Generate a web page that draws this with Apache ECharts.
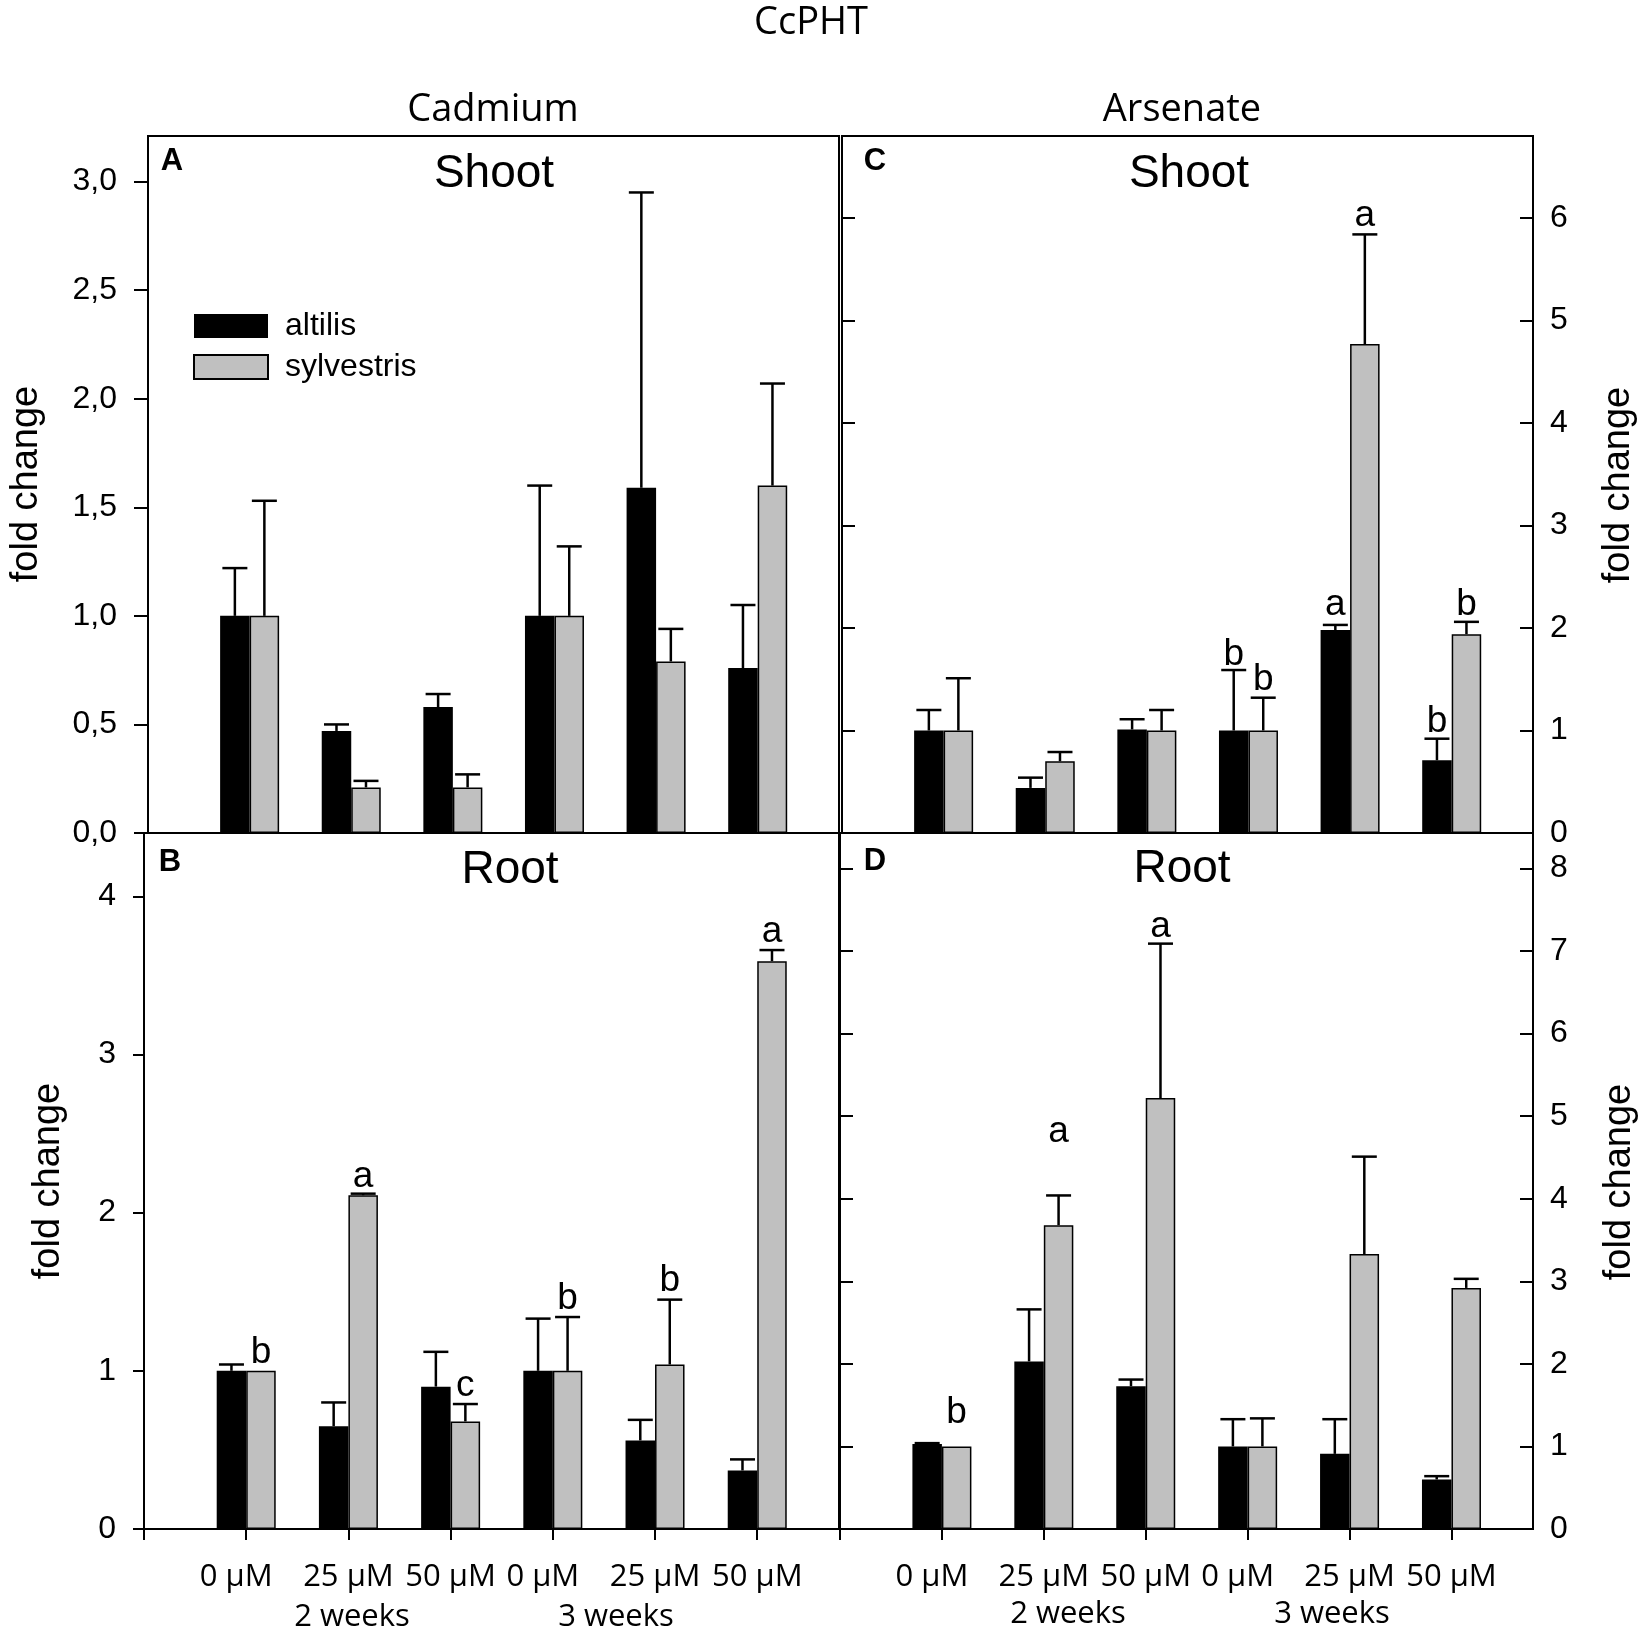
<!DOCTYPE html>
<html lang="en">
<head>
<meta charset="utf-8">
<style>
  html, body { margin: 0; padding: 0; background: #fff; }
  #main { width: 1650px; height: 1638px; }
</style>
</head>
<body>
<div id="main"></div>
<script src="https://cdn.jsdelivr.net/npm/echarts@6/dist/echarts.min.js"></script>
<script>
// categories along the x axis (groups 1..6)
var categories = ['0 µM', '25 µM', '50 µM', '0 µM', '25 µM', '50 µM'];

// A: Cadmium, shoot
var cdShootAlt   = [1.00, 0.47, 0.58, 1.00, 1.59, 0.76];
var cdShootAltSE = [0.22, 0.03, 0.06, 0.60, 1.36, 0.29];
var cdShootSyl   = [1.00, 0.21, 0.21, 1.00, 0.79, 1.60];
var cdShootSylSE = [0.53, 0.03, 0.06, 0.32, 0.15, 0.47];

// B: Cadmium, root
var cdRootAlt   = [1.00, 0.65, 0.90, 1.00, 0.56, 0.37];
var cdRootAltSE = [0.04, 0.15, 0.22, 0.33, 0.13, 0.07];
var cdRootSyl   = [1.00, 2.11, 0.68, 1.00, 1.04, 3.59];
var cdRootSylSE = [0.00, 0.01, 0.11, 0.34, 0.41, 0.07];
var cdRootSylLetters = ['b', 'a', 'c', 'b', 'b', 'a'];
var cdRootSylLetterY = [1.05, 2.16, 0.84, 1.39, 1.50, 3.71];

// C: Arsenate, shoot
var asShootAlt   = [1.00, 0.44, 1.01, 1.00, 1.98, 0.71];
var asShootAltSE = [0.20, 0.10, 0.10, 0.59, 0.05, 0.21];
var asShootSyl   = [1.00, 0.70, 1.00, 1.00, 4.77, 1.94];
var asShootSylSE = [0.51, 0.09, 0.20, 0.32, 1.07, 0.12];
var asShootAltLetters = ['', '', '', 'b', 'a', 'b'];
var asShootAltLetterY = [0, 0, 0, 1.64, 2.12, 0.98];
var asShootSylLetters = ['', '', '', 'b', 'a', 'b'];
var asShootSylLetterY = [0, 0, 0, 1.39, 5.92, 2.12];

// D: Arsenate, root
var asRootAlt   = [1.03, 2.03, 1.73, 1.00, 0.91, 0.60];
var asRootAltSE = [0.01, 0.63, 0.08, 0.33, 0.42, 0.04];
var asRootSyl   = [1.00, 3.68, 5.22, 1.00, 3.33, 2.92];
var asRootSylSE = [0.00, 0.36, 1.87, 0.34, 1.18, 0.11];
var asRootSylLetters = ['b', 'a', 'a', '', '', ''];
var asRootSylLetterY = [1.28, 4.68, 7.17, 0, 0, 0];

// y tick values
var ticksA = [0, 0.5, 1, 1.5, 2, 2.5, 3];
var ticksB = [0, 1, 2, 3, 4];
var ticksC = [0, 1, 2, 3, 4, 5, 6];
var ticksD = [0, 1, 2, 3, 4, 5, 6, 7, 8];
var xTicks = [0, 1, 2, 3, 4, 5, 6];
var xLabelPos = [1, 2, 3, 4, 5, 6];

var BAR_W = 29.5;
var CAP_W = 25;
var ARIAL = '"Liberation Sans", Arial, sans-serif';
var SEGOE = '"Open Sans", "Noto Sans", sans-serif';

var myChart = echarts.init(document.getElementById('main'));

function barData(vals) {
    return vals.map(function (v, i) { return [i + 1, v]; });
}
function errData(vals, se, side) {
    var out = [];
    vals.forEach(function (v, i) {
        if (se[i] > 0) out.push([i + 1, v, v + se[i], side]);
    });
    return out;
}

function errSeries(xi, yi, vals, se, side) {
    return {
        type: 'custom',
        xAxisIndex: xi, yAxisIndex: yi,
        z: 5,
        silent: true,
        data: errData(vals, se, side),
        renderItem: function (params, api) {
            var x = api.value(0), v = api.value(1), t = api.value(2), s = api.value(3);
            var p0 = api.coord([x, v]);
            var p1 = api.coord([x, t]);
            var cx = p0[0] + s * BAR_W / 2;
            return {
                type: 'group',
                children: [
                    { type: 'line', shape: { x1: cx, y1: p0[1], x2: cx, y2: p1[1] }, style: { stroke: '#000', lineWidth: 2.5 } },
                    { type: 'line', shape: { x1: cx - CAP_W / 2, y1: p1[1], x2: cx + CAP_W / 2, y2: p1[1] }, style: { stroke: '#000', lineWidth: 2.5 } }
                ]
            };
        }
    };
}

function letterSeries(xi, yi, letters, levels, side) {
    var data = [], texts = [];
    letters.forEach(function (l, i) {
        if (l) { data.push([i + 1, levels[i], side]); texts.push(l); }
    });
    return {
        type: 'custom',
        xAxisIndex: xi, yAxisIndex: yi,
        z: 6,
        silent: true,
        data: data,
        renderItem: function (params, api) {
            var p = api.coord([api.value(0), api.value(1)]);
            return {
                type: 'text',
                style: {
                    x: p[0] + api.value(2) * BAR_W / 2,
                    y: p[1] + 8,
                    text: texts[params.dataIndex],
                    align: 'center',
                    verticalAlign: 'bottom',
                    fontSize: 37,
                    fontFamily: ARIAL,
                    fill: '#000'
                }
            };
        }
    };
}

function barPair(xi, yi, alt, syl) {
    return [{
        name: 'altilis',
        type: 'bar',
        xAxisIndex: xi, yAxisIndex: yi,
        barWidth: BAR_W,
        barGap: '0%',
        itemStyle: { color: '#000' },
        data: barData(alt)
    }, {
        name: 'sylvestris',
        type: 'bar',
        xAxisIndex: xi, yAxisIndex: yi,
        barWidth: BAR_W,
        barGap: '0%',
        itemStyle: { color: '#c0c0c0', borderColor: '#000', borderWidth: 1.5 },
        data: barData(syl)
    }];
}

function xAxisFor(gi, withLabels) {
    return {
        type: 'value', gridIndex: gi, min: 0, max: 6.8,
        splitLine: { show: false },
        axisLine: { show: true, onZero: false, lineStyle: { color: '#000', width: 2 } },
        axisTick: { show: withLabels, customValues: xTicks, length: 11, inside: false, lineStyle: { color: '#000', width: 2 } },
        axisLabel: {
            show: withLabels,
            customValues: xLabelPos,
            margin: 33,
            color: '#000',
            fontSize: 31,
            fontFamily: SEGOE,
            formatter: function (v) {
                var t = categories[Math.round(v) - 1];
                return t === '0 µM' ? '{z|' + t + '}' : t;
            },
            rich: { z: { fontSize: 31, fontFamily: SEGOE, color: '#000', padding: [0, 20, 0, 0] } }
        }
    };
}

function yAxisFor(gi, pos, max, ticks, opts) {
    return {
        type: 'value', gridIndex: gi, position: pos, min: 0, max: max,
        splitLine: { show: false },
        axisLine: { show: true, onZero: false, lineStyle: { color: '#000', width: 2 } },
        axisTick: { show: true, customValues: opts.tickValues || ticks, inside: !!opts.inside, length: opts.tickLen || 13, lineStyle: { color: '#000', width: 2 } },
        axisLabel: {
            show: !!opts.labels,
            customValues: ticks,
            margin: opts.margin || 17,
            color: '#000',
            fontSize: 32,
            fontFamily: ARIAL,
            formatter: opts.formatter
        }
    };
}

var series = [];
// A
series = series.concat(barPair(0, 0, cdShootAlt, cdShootSyl));
series.push(errSeries(0, 0, cdShootAlt, cdShootAltSE, -1));
series.push(errSeries(0, 0, cdShootSyl, cdShootSylSE, 1));
// B
series = series.concat(barPair(1, 1, cdRootAlt, cdRootSyl));
series.push(errSeries(1, 1, cdRootAlt, cdRootAltSE, -1));
series.push(errSeries(1, 1, cdRootSyl, cdRootSylSE, 1));
series.push(letterSeries(1, 1, cdRootSylLetters, cdRootSylLetterY, 1));
// C
series = series.concat(barPair(2, 2, asShootAlt, asShootSyl));
series.push(errSeries(2, 2, asShootAlt, asShootAltSE, -1));
series.push(errSeries(2, 2, asShootSyl, asShootSylSE, 1));
series.push(letterSeries(2, 2, asShootAltLetters, asShootAltLetterY, -1));
series.push(letterSeries(2, 2, asShootSylLetters, asShootSylLetterY, 1));
// D
series = series.concat(barPair(3, 3, asRootAlt, asRootSyl));
series.push(errSeries(3, 3, asRootAlt, asRootAltSE, -1));
series.push(errSeries(3, 3, asRootSyl, asRootSylSE, 1));
series.push(letterSeries(3, 3, asRootSylLetters, asRootSylLetterY, 1));

function txt(x, y, s, size, family, weight, rot) {
    return {
        type: 'text', x: x, y: y, rotation: rot || 0, silent: true,
        style: { text: s, fontSize: size, fontFamily: family, fontWeight: weight || 'normal', fill: '#000', align: 'center', verticalAlign: 'middle' }
    };
}

var gridStyle = { show: true, borderColor: '#000', borderWidth: 2, backgroundColor: 'transparent' };

myChart.setOption({
    animation: false,
    grid: [
        Object.assign({ left: 148, top: 136, width: 691, height: 697 }, gridStyle),
        Object.assign({ left: 144, top: 833, width: 695, height: 696 }, gridStyle),
        Object.assign({ left: 842, top: 136, width: 691, height: 697 }, gridStyle),
        Object.assign({ left: 840, top: 833, width: 693, height: 696 }, gridStyle)
    ],
    xAxis: [xAxisFor(0, false), xAxisFor(1, true), xAxisFor(2, false), xAxisFor(3, true)],
    yAxis: [
        yAxisFor(0, 'left', 3.21, ticksA, { labels: true, margin: 31, tickLen: 14, formatter: function (v) { return v.toFixed(1).replace('.', ','); } }),
        yAxisFor(1, 'left', 4.40, ticksB, { labels: true, margin: 28, tickLen: 11 }),
        yAxisFor(2, 'right', 6.80, ticksC, { labels: true, inside: true, margin: 17 }),
        yAxisFor(3, 'right', 8.43, ticksD, { labels: true, inside: true, margin: 17 }),
        yAxisFor(2, 'left', 6.80, ticksC, { inside: true }),
        yAxisFor(3, 'left', 8.43, ticksD, { inside: true })
    ],
    legend: {
        data: ['altilis', 'sylvestris'],
        orient: 'vertical',
        left: 188, top: 305,
        icon: 'rect',
        itemWidth: 74, itemHeight: 24, itemGap: 9,
        selectedMode: false,
        textStyle: { fontSize: 32, fontFamily: ARIAL, color: '#000', padding: [0, 0, 0, 12] }
    },
    graphic: [
        txt(811, 23, 'CcPHT', 38, SEGOE),
        txt(493, 110, 'Cadmium', 38, SEGOE),
        txt(1182, 110, 'Arsenate', 38, SEGOE),
        txt(494, 174, 'Shoot', 46, ARIAL),
        txt(1189, 174, 'Shoot', 46, ARIAL),
        txt(510, 870, 'Root', 46, ARIAL),
        txt(1182, 869, 'Root', 46, ARIAL),
        txt(172, 161, 'A', 31, ARIAL, 'bold'),
        txt(170, 862, 'B', 31, ARIAL, 'bold'),
        txt(875, 161, 'C', 31, ARIAL, 'bold'),
        txt(875, 861, 'D', 31, ARIAL, 'bold'),
        txt(27, 484, 'fold change', 38, ARIAL, 'normal', Math.PI / 2),
        txt(49, 1181, 'fold change', 38, ARIAL, 'normal', Math.PI / 2),
        txt(1619, 485, 'fold change', 38, ARIAL, 'normal', Math.PI / 2),
        txt(1620, 1182, 'fold change', 38, ARIAL, 'normal', Math.PI / 2),
        txt(352, 1617, '2 weeks', 31, SEGOE),
        txt(616, 1617, '3 weeks', 31, SEGOE),
        txt(1068, 1614, '2 weeks', 31, SEGOE),
        txt(1332, 1614, '3 weeks', 31, SEGOE)
    ],
    series: series
});
</script>
</body>
</html>
